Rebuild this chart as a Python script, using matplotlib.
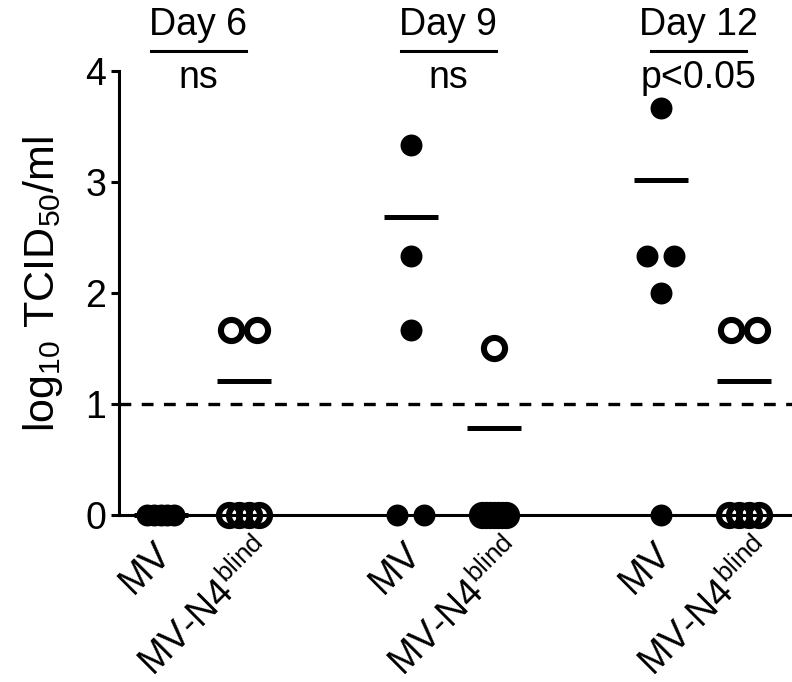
import matplotlib
matplotlib.use("Agg")
import matplotlib.pyplot as plt
import matplotlib.transforms as mtransforms
import numpy as np

plt.rcParams["font.family"] = ["Liberation Sans", "DejaVu Sans"]
plt.rcParams["mathtext.fontset"] = "custom"
plt.rcParams["mathtext.rm"] = "Liberation Sans"
plt.rcParams["mathtext.it"] = "Liberation Sans:italic"
plt.rcParams["lines.scale_dashes"] = False

# ---------------------------------------------------------------------------
# Data (log10 TCID50/ml per animal)
# ---------------------------------------------------------------------------
days = ["Day 6", "Day 9", "Day 12"]
stats = ["ns", "ns", "p<0.05"]
group_labels = ["MV", r"MV-N4$^{\mathrm{blind}}$"] * 3

mv_day6 = [0, 0, 0, 0, 0]
n4_day6 = [1.67, 1.67, 0, 0, 0, 0]
mv_day9 = [3.33, 2.33, 1.67, 0, 0]
n4_day9 = [1.5, 0, 0, 0, 0, 0, 0, 0]
mv_day12 = [3.67, 2.33, 2.33, 2.0, 0]
n4_day12 = [1.67, 1.67, 0, 0, 0, 0]

group_means = [0.0, 1.21, 2.68, 0.78, 3.02, 1.21]
detection_limit = 1.0

groups = [mv_day6, n4_day6, mv_day9, n4_day9, mv_day12, n4_day12]
filled = [True, False, True, False, True, False]
positions = [1, 2, 4, 5, 7, 8]
# half-width of the sideways spread for crowded ties (pairs always use 0.16)
crowd_spread = [0.16, 0.18, 0.16, 0.14, 0.16, 0.18]


def swarm(values, half):
    """Spread tied values sideways, the way the scatter plot does it."""
    vals = np.asarray(values, dtype=float)
    offs = np.zeros_like(vals)
    for v in np.unique(vals):
        idx = np.where(vals == v)[0]
        if len(idx) == 2:
            offs[idx] = [-0.16, 0.16]
        elif len(idx) > 2:
            offs[idx] = np.linspace(-half, half, len(idx))
    return offs


fig = plt.figure(figsize=(7.92, 6.82), dpi=100)
ax = fig.add_axes([0.150, 0.245, 0.850, 0.651])

for pos, vals, full, mean, half in zip(positions, groups, filled,
                                       group_means, crowd_spread):
    ax.plot([pos - 0.325, pos + 0.325], [mean, mean], color="black",
            lw=3.6, solid_capstyle="butt", clip_on=False, zorder=3)
    x = pos + swarm(vals, half)
    if full:
        ax.plot(x, vals, "o", ms=15.8, mfc="black", mec="black", mew=0,
                ls="none", clip_on=False, zorder=4)
    else:
        ax.plot(x, vals, "o", ms=15.2, mfc="none", mec="black", mew=4.4,
                ls="none", clip_on=False, zorder=4)

ax.axhline(detection_limit, color="black", lw=2.4, ls=(0, (8.5, 7.5)), zorder=2)

# headers above each day
for i, (day, stat) in enumerate(zip(days, stats)):
    c = positions[2 * i] + 0.45
    ax.text(c, 4.32, day, ha="center", va="baseline", fontsize=27)
    ax.plot([c - 0.57, c + 0.57], [4.18, 4.18], color="black", lw=2.2,
            clip_on=False)
    ax.text(c, 3.85, stat, ha="center", va="baseline", fontsize=27)

ax.set_xlim(0.496, 8.575)
ax.set_ylim(0, 4)
ax.set_yticks([0, 1, 2, 3, 4])
ax.tick_params(axis="y", length=6, width=2.2, labelsize=27, pad=3)
ax.set_xticks(positions)
ax.set_xticklabels(group_labels, rotation=45, ha="right", va="center",
                   rotation_mode="anchor", fontsize=27)
ax.tick_params(axis="x", length=0, pad=20)

# nudge the rotated labels: the superscripted ones sit further right
for i, lab in enumerate(ax.get_xticklabels()):
    dx, dy = (0.05, -0.05) if i % 2 == 0 else (0.24, -0.05)
    shift = mtransforms.ScaledTranslation(dx, dy, fig.dpi_scale_trans)
    lab.set_transform(lab.get_transform() + shift)

for side in ["top", "right"]:
    ax.spines[side].set_visible(False)
for side in ["left", "bottom"]:
    ax.spines[side].set_linewidth(2.2)

ax.set_ylabel(r"log$_{10}$ TCID$_{50}$/ml", fontsize=31)
ax.yaxis.set_label_coords(-0.080, 0.52)

fig.savefig("out.png", dpi=100)
